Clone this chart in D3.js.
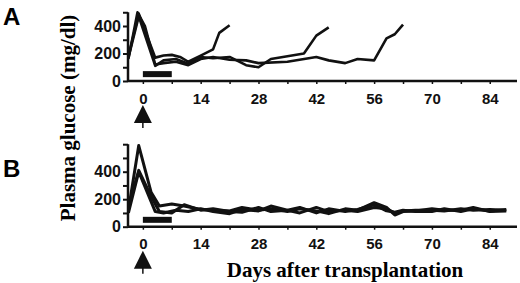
<!DOCTYPE html>
<html>
<head>
<meta charset="utf-8">
<script src="https://cdn.jsdelivr.net/npm/d3@7"></script>
<style>
  body { margin: 0; background: #fff; }
  .tick text { font-family: "Liberation Sans", Arial, sans-serif; font-weight: bold; fill: #111; }
  .domain, .tick line { stroke: #111; }
</style>
</head>
<body>
<svg id="chart" width="520" height="283"></svg>
<script>
// days / plasma glucose (mg/dl)
const linesA = [
  [[-3.5,180],[-1,490],[3,170],[5,185],[7,190],[9,175],[11,140],[14,185],[17,230],[18.5,350],[21,405]],
  [[-3.5,170],[-1,470],[3,110],[5,150],[8,160],[11,125],[14,175],[17,165],[21,175],[25,115],[28,100],[31,160],[39,200],[42,330],[45,390]],
  [[-3.5,160],[-1.3,500],[0.5,400],[3,120],[5,130],[8,140],[11,115],[14,160],[17,175],[21,155],[25,150],[28,130],[35,140],[42,175],[45,150],[49,130],[52,160],[56,150],[59,310],[61,340],[63,410]]
];
const linesB = [
  [[-3.5,120],[-1,590],[2,250],[4,150],[7,165],[10,150],[14,125],[17,120],[21,115],[24,140],[28,120],[31,130],[35,110],[38,130],[42,115],[45,95],[49,130],[52,120],[56,175],[59,140],[61,85],[63,110],[66,115],[70,130],[73,120],[77,120],[80,140],[84,110],[88,115]],
  [[-3.5,100],[-1,400],[3,110],[5,100],[8,120],[11,110],[14,130],[17,110],[21,95],[24,125],[28,115],[31,150],[35,120],[38,100],[42,140],[45,110],[49,120],[52,110],[56,140],[59,130],[61,100],[63,115],[66,120],[70,120],[73,115],[77,130],[80,120],[84,125],[88,120]],
  [[-3.5,140],[-1,410],[2,220],[4,110],[7,100],[10,160],[14,120],[17,130],[21,110],[24,105],[28,140],[31,110],[35,120],[38,140],[42,100],[45,130],[49,110],[52,125],[56,160],[59,115],[61,105],[63,120],[66,110],[70,110],[73,130],[77,110],[80,130],[84,115],[88,125]]
];
const treatment = [0, 7];     // black bar, days
const arrowDay = 0;           // transplantation
const xTicks = [0,7,14,21,28,35,42,49,56,63,70,77,84];
const yTicksA = [0,100,200,300,400,500];
const yTicksB = [0,100,200,300,400,500,600];
const yLabelsShown = [0,200,400];

const svg = d3.select("#chart");
const x = d3.scaleLinear().domain([-3.6, 90.6]).range([128, 517]);

const panels = [
  { name: "A", lines: linesA, yMax: 500, yTicks: yTicksA, base: 81, letterY: 25 },
  { name: "B", lines: linesB, yMax: 600, yTicks: yTicksB, base: 226.7, letterY: 177 }
];

panels.forEach(p => {
  const y = d3.scaleLinear().domain([0, p.yMax]).range([p.base, p.base - p.yMax * 0.1375]);
  const g = svg.append("g");

  // data lines
  const line = d3.line().x(d => x(d[0])).y(d => y(d[1]));
  g.selectAll("path.series")
    .data(p.lines)
    .enter()
    .append("path")
    .attr("class", "series")
    .attr("d", line)
    .attr("fill", "none")
    .attr("stroke", "#111")
    .attr("stroke-width", p.name == "A" ? 2.6 : 3)
    .attr("stroke-linejoin", "round");

  // treatment bar
  g.append("rect")
    .attr("x", x(treatment[0]))
    .attr("width", x(treatment[1]) - x(treatment[0]))
    .attr("y", y(50) - 3)
    .attr("height", 6)
    .attr("fill", "#111");

  // y axis
  const yAxis = d3.axisLeft(y)
    .tickValues(p.yTicks)
    .tickSize(5)
    .tickPadding(2)
    .tickFormat(v => yLabelsShown.includes(v) ? v : "");
  const ya = g.append("g").attr("transform", "translate(128,0)").call(yAxis);
  ya.select(".domain").attr("stroke-width", 2.5).attr("d", `M0,${y(p.yMax)}V${p.base}`);
  ya.selectAll(".tick line").attr("stroke-width", 2);
  ya.selectAll(".tick text").attr("font-size", 16);

  // x axis
  const xAxis = d3.axisBottom(x)
    .tickValues(xTicks)
    .tickSize(3)
    .tickPadding(9)
    .tickFormat(v => v % 14 == 0 ? v : "");
  const xa = g.append("g").attr("transform", `translate(0,${p.base})`).call(xAxis);
  xa.select(".domain").attr("stroke-width", 2.5).attr("d", `M${x.range()[0]},0H${x.range()[1]}`);
  xa.selectAll(".tick line").attr("stroke-width", 1.5);
  xa.selectAll(".tick text").attr("font-size", 15);

  // arrow marking day 0
  const ax = x(arrowDay), ay = p.base + 24;
  g.append("path")
    .attr("d", `M${ax},${ay}L${ax - 9},${ay + 18}L${ax + 9},${ay + 18}Z`)
    .attr("fill", "#111");
  g.append("line")
    .attr("x1", ax).attr("x2", ax)
    .attr("y1", ay + 17).attr("y2", ay + 23)
    .attr("stroke", "#111").attr("stroke-width", 1.5);

  // panel letter
  svg.append("text")
    .attr("x", 3).attr("y", p.letterY)
    .attr("font-family", "Liberation Sans, Arial, sans-serif")
    .attr("font-weight", "bold")
    .attr("font-size", 24)
    .text(p.name);
});

// axis titles
svg.append("text")
  .attr("transform", "translate(75,118) rotate(-90)")
  .attr("text-anchor", "middle")
  .attr("font-family", "Liberation Serif, Times New Roman, serif")
  .attr("font-weight", "bold")
  .attr("font-size", 21)
  .text("Plasma glucose (mg/dl)");

svg.append("text")
  .attr("x", 345).attr("y", 277)
  .attr("text-anchor", "middle")
  .attr("font-family", "Liberation Serif, Times New Roman, serif")
  .attr("font-weight", "bold")
  .attr("font-size", 21)
  .text("Days after transplantation");
</script>
</body>
</html>
